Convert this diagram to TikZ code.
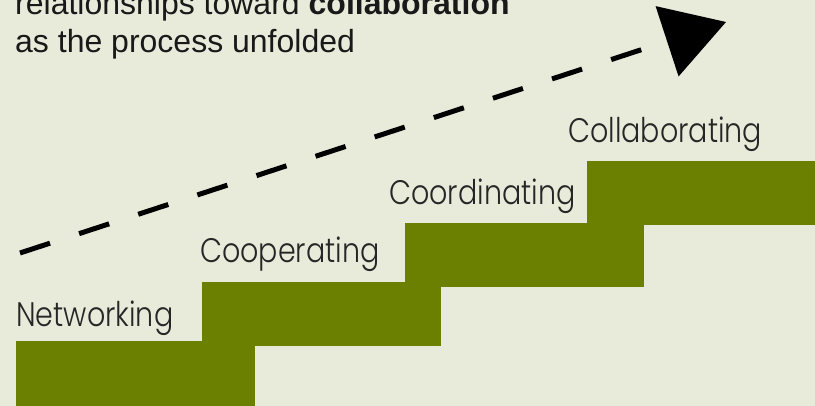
\documentclass[tikz,border=0pt]{standalone}
\usepackage{fontspec}
\setmainfont{Liberation Sans}
\newfontfamily\stairfont{Poppins Light}[FakeStretch=0.84]
\usetikzlibrary{arrows.meta}
\definecolor{paper}{RGB}{232,235,218}
\definecolor{stairgreen}{RGB}{108,128,0}
\tikzset{
  stepbox/.style={fill=stairgreen, draw=none, anchor=north west, inner sep=0pt,
    minimum width=239pt, minimum height=64pt},
  steplabel/.style={anchor=base west, inner sep=0pt, text=black!85,
    font=\stairfont\fontsize{34}{34}\selectfont},
  intro/.style={anchor=base west, inner sep=0pt, text=black!90,
    font=\fontsize{32}{38}\selectfont},
}
\begin{document}
\begin{tikzpicture}[x=1pt, y=-1pt, line join=round]
		\path[use as bounding box, fill=paper] (0,0) rectangle (815,406);
		% the four steps
		\node[stepbox, minimum height=66pt] (net) at (16,341) {};
		\node[stepbox] (coop) at (202,282) {};
		\node[stepbox] (coord) at (405,223) {};
		\node[stepbox] (collab) at (587,161) {};
		\node[steplabel] (netlabel) at (16,327) {Networking};
		\node[steplabel] (cooplabel) at (200,263) {Cooperating};
		\node[steplabel] (coordlabel) at (389,205) {Coordinating};
		\node[steplabel] (collablabel) at (568,143) {Collaborating};
		% caption
		\node[intro] (introa) at (15,15) {relationships toward \textbf{collaboration}};
		\node[intro] (introb) at (15,53) {as the process unfolded};
		% rising arrow
		\coordinate (rise) at (20,253);
		\coordinate (tip) at (726,22);
		\draw[line width=5pt, dash pattern=on 31.6pt off 30.6pt,
		  -{Triangle[length=62pt, width=74pt, line width=0pt]}] (rise) -- (tip);
\end{tikzpicture}
\end{document}
